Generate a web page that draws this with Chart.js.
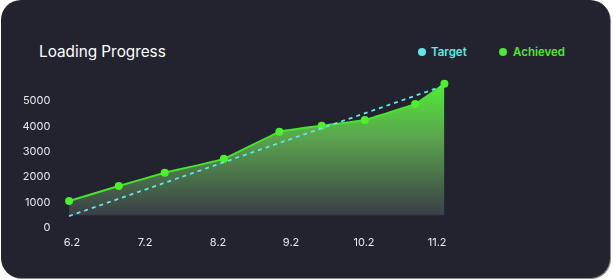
<!DOCTYPE html>
<html>
<head>
<meta charset="utf-8">
<script src="https://cdn.jsdelivr.net/npm/chart.js@4"></script>
<style>
  html,body{margin:0;padding:0;background:#ffffff;}
  #wrap{position:relative;width:613px;height:280px;overflow:hidden;}
  #card{position:absolute;left:1px;top:0;width:609px;height:278px;background:#22232f;border-radius:20px;box-shadow:1px 1px 0 #8a8a90;}
  #title{position:absolute;left:39px;top:41px;font-family:"Inter",sans-serif;font-size:15.3px;color:#ffffff;line-height:22px;white-space:nowrap;}
  .leg{position:absolute;top:44px;font-family:"Inter",sans-serif;font-size:11.5px;font-weight:600;line-height:16px;white-space:nowrap;}
  .dot{position:absolute;width:8px;height:8px;border-radius:50%;top:4px;}
  canvas{position:absolute;left:0;top:0;}
</style>
</head>
<body>
<div id="wrap">
  <div id="card"></div>
  <div id="title">Loading Progress</div>
  <div class="leg" style="left:418px;color:#5fe8e6;"><span class="dot" style="left:0;background:#5fe8e6;"></span><span style="margin-left:13px;">Target</span></div>
  <div class="leg" style="left:499px;color:#4ee836;"><span class="dot" style="left:0;background:#4ee836;"></span><span style="margin-left:14px;">Achieved</span></div>
  <canvas id="c" width="613" height="280"></canvas>
</div>
<script>
// ---- data ----
const xTickValues = [6.2, 7.2, 8.2, 9.2, 10.2, 11.2];
const xTickLabels = ['6.2', '7.2', '8.2', '9.2', '10.2', '11.2'];
const yTickValues = [0, 1000, 2000, 3000, 4000, 5000];
const achievedX = [6.16, 6.84, 7.47, 8.28, 9.04, 9.62, 10.21, 10.90, 11.30];
const achievedY = [1060, 1650, 2170, 2720, 3780, 4020, 4250, 4880, 5670];
const targetX = [6.16, 11.25];
const targetY = [470, 5550];
const seriesNames = ['Target', 'Achieved'];

const achievedPts = achievedX.map((x, i) => ({x: x, y: achievedY[i]}));
const targetPts = targetX.map((x, i) => ({x: x, y: targetY[i]}));

function fillGradient(ctx) {
  const chart = ctx.chart;
  const area = chart.chartArea;
  if (!area) return 'rgba(80,220,60,0.6)';
  const g = chart.ctx.createLinearGradient(0, 84, 0, 216);
  g.addColorStop(0, 'rgba(82,235,56,1)');
  g.addColorStop(0.4, 'rgba(90,165,78,1)');
  g.addColorStop(1, 'rgba(58,61,70,1)');
  return g;
}

new Chart(document.getElementById('c'), {
  type: 'line',
  data: {
    datasets: [
      {
        label: seriesNames[0],
        data: targetPts,
        borderColor: '#5fe8e6',
        borderWidth: 1.8,
        borderDash: [4, 4],
        pointRadius: 0,
        fill: false,
        order: 0
      },
      {
        label: seriesNames[1],
        data: achievedPts,
        borderColor: '#48e22f',
        borderWidth: 2,
        pointRadius: 4,
        pointBackgroundColor: '#4cf02c',
        pointBorderWidth: 0,
        tension: 0.08,
        fill: {value: 500},
        backgroundColor: fillGradient,
        order: 1
      }
    ]
  },
  options: {
    responsive: false,
    animation: false,
    clip: false,
    layout: {padding: {left: 0, right: 154, top: 80.5, bottom: 30}},
    plugins: {legend: {display: false}, tooltip: {enabled: false}, title: {display: false}},
    scales: {
      x: {
        type: 'linear',
        min: 6.0,
        max: 11.5,
        grid: {display: false, drawTicks: false},
        border: {display: false},
        afterBuildTicks: (s) => { s.ticks = xTickValues.map(v => ({value: v})); },
        afterFit: (s) => { s.height = 22; },
        ticks: {
          padding: 8,
          color: '#e8e8ec',
          font: {family: 'Inter', size: 11},
          callback: (v) => { const i = xTickValues.indexOf(v); return i >= 0 ? xTickLabels[i] : ''; },
          maxRotation: 0
        }
      },
      y: {
        min: 0,
        max: 5800,
        grid: {display: false, drawTicks: false},
        border: {display: false},
        afterBuildTicks: (s) => { s.ticks = yTickValues.map(v => ({value: v})); },
        afterFit: (s) => { s.width = 57.4; },
        ticks: {
          padding: 7,
          color: '#e8e8ec',
          font: {family: 'Inter', size: 11},
          callback: (v) => String(v)
        }
      }
    }
  }
});
</script>
</body>
</html>
